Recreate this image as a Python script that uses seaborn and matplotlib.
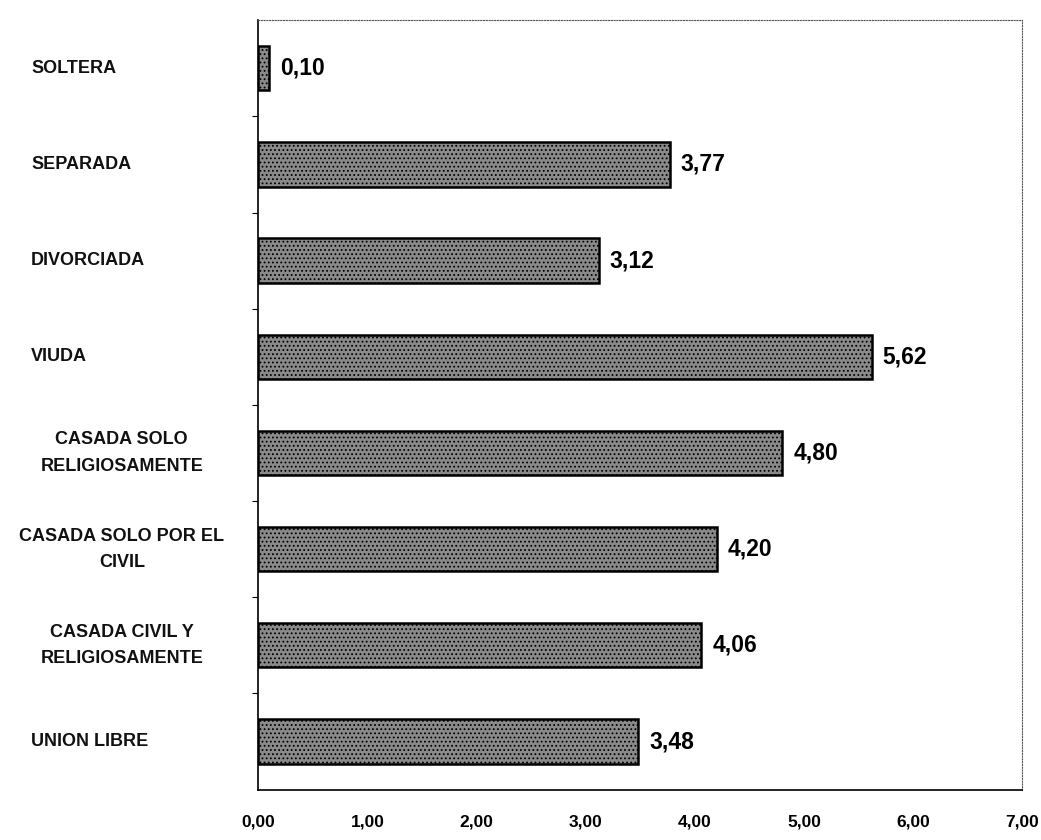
import pandas as pd
import matplotlib
matplotlib.use("Agg")
import matplotlib.pyplot as plt
import matplotlib.transforms as mtransforms
import seaborn as sns

# datos
categorias = ["SOLTERA", "SEPARADA", "DIVORCIADA", "VIUDA",
              "CASADA SOLO\nRELIGIOSAMENTE", "CASADA SOLO POR EL\nCIVIL",
              "CASADA CIVIL Y\nRELIGIOSAMENTE", "UNION LIBRE"]
valores = [0.10, 3.77, 3.12, 5.62, 4.80, 4.20, 4.06, 3.48]
ticks_x = [0, 1, 2, 3, 4, 5, 6, 7]

tabela = pd.DataFrame({"estado": categorias, "valor": valores})

sns.set_style("white")
plt.rcParams["font.family"] = ["Liberation Sans", "DejaVu Sans"]
plt.rcParams["hatch.linewidth"] = 0.8

fig = plt.figure(figsize=(10.41, 8.4), dpi=100)
ax = fig.add_axes([0.248, 0.06, 0.734, 0.916])

sns.barplot(data=tabela, x="valor", y="estado", orient="h", color="#8a8a8a",
            width=0.46, edgecolor="black", linewidth=1.8, ax=ax)
for p in ax.patches:
    p.set_hatch("....")

ax.bar_label(ax.containers[0], labels=[f"{v:.2f}".replace(".", ",") for v in valores],
             padding=8, fontsize=16.5, fontweight="bold", color="black")

ax.set_xlim(0, 7)
ax.set_ylim(len(categorias) - 0.5, -0.5)
ax.set_xticks(ticks_x)
ax.set_xticklabels([f"{t:.2f}".replace(".", ",") for t in ticks_x],
                   fontsize=12.5, fontweight="bold", color="black")
ax.tick_params(axis="x", pad=18, length=0)

# etiquetas de categoria a mano (alineacion mixta como el original)
ax.set_yticks([i + 0.5 for i in range(len(categorias) - 1)])
ax.set_yticklabels([])
ax.tick_params(axis="y", length=4, direction="out", left=True, color="black")
ax.set_xlabel("")
ax.set_ylabel("")
trans = mtransforms.blended_transform_factory(fig.transFigure, ax.transData)
for i, c in enumerate(categorias):
    if "\n" in c:
        ax.text(0.117, i, c, transform=trans, ha="center", va="center",
                multialignment="center", fontsize=13, fontweight="bold",
                linespacing=1.7, color="#111111")
    else:
        ax.text(0.03, i, c, transform=trans, ha="left", va="center",
                fontsize=13, fontweight="bold", color="#111111")

for lado in ["top", "right"]:
    ax.spines[lado].set_linestyle((0, (1, 1.5)))
    ax.spines[lado].set_color("#555555")
for lado in ["left", "bottom"]:
    ax.spines[lado].set_color("black")
    ax.spines[lado].set_linewidth(1.2)

fig.savefig("out.png", dpi=100)
